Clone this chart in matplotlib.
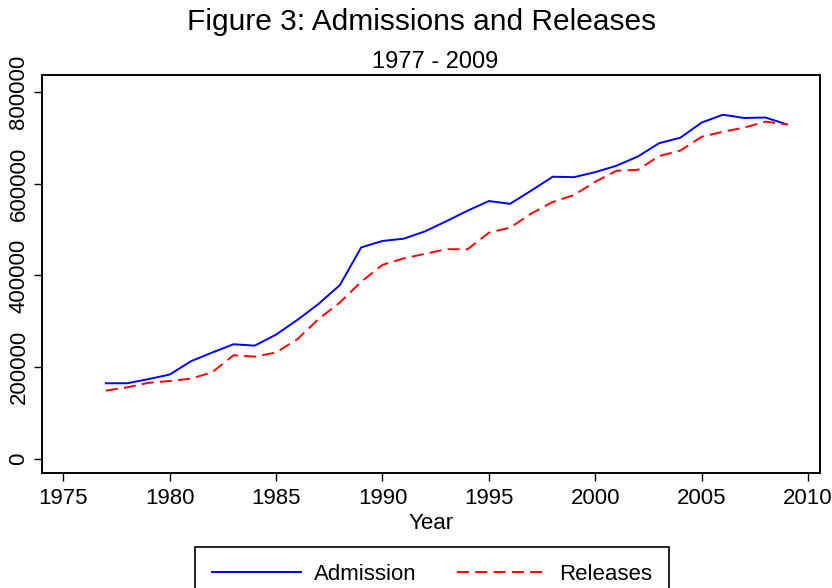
import matplotlib
matplotlib.use("Agg")
from matplotlib import pyplot as plt

plt.rcParams['font.family'] = ['Liberation Sans', 'DejaVu Sans']

years = list(range(1977, 2010))

# values
admission = [165000, 165000, 174000, 184000, 213000, 232000, 250000, 247000,
             271000, 303000, 338000, 379000, 461000, 475000, 480000, 496000,
             518000, 541000, 562000, 556000, 585000, 615000, 614000, 625000,
             639000, 659000, 688000, 700000, 733000, 750000, 743000, 744000,
             729000]
releases = [149000, 156000, 166000, 170000, 175000, 189000, 226000, 223000,
            232000, 261000, 305000, 341000, 386000, 423000, 437000, 447000,
            457000, 457000, 493000, 504000, 535000, 560000, 575000, 604000,
            628000, 630000, 660000, 672000, 702000, 713000, 722000, 735000,
            729000]

xticks = [1975, 1980, 1985, 1990, 1995, 2000, 2005, 2010]
yticks = [0, 200000, 400000, 600000, 800000]

fig = plt.figure(figsize=(8.32, 5.88), dpi=100)
ax = fig.add_axes([42/832, 1 - 473/588, (820 - 42)/832, (473 - 75)/588])

ax.plot(years, admission, color='#0000ff', lw=1.4, label='Admission')
ax.plot(years, releases, color='#ff0000', lw=1.4, dashes=(6.2, 3.2), label='Releases')

ax.set_xlim(1974.0, 2010.56)
ax.set_ylim(-30500, 836600)
ax.set_xticks(xticks)
ax.set_yticks(yticks)
ax.set_yticklabels([str(v) for v in yticks], rotation=90, va='center')
ax.tick_params(direction='out', length=6, width=1, labelsize=16, pad=3)
ax.tick_params(axis='x', pad=5)
for s in ax.spines.values():
    s.set_linewidth(1.4)
ax.set_xlabel('Year', fontsize=16, labelpad=3)

fig.text(422/832, 1 - 22/588, 'Figure 3: Admissions and Releases', fontsize=21.5,
         ha='center', va='center')
fig.text(435/832, 1 - 62/588, '1977 - 2009', fontsize=17, ha='center', va='center')

leg = fig.legend(loc='upper center', bbox_to_anchor=(432/832, 1 - 547/588), ncol=2,
                 fontsize=16, handlelength=4.0, columnspacing=1.8,
                 fancybox=False, edgecolor='black', framealpha=1,
                 borderpad=0.75, handletextpad=0.6, borderaxespad=0)
leg.get_frame().set_linewidth(1.2)

fig.savefig('out.png', dpi=100)
